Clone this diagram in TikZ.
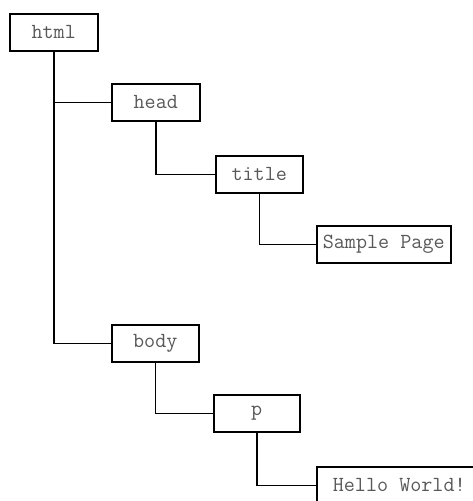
\documentclass[tikz,border=0pt]{standalone}
\begin{document}
\begin{tikzpicture}[x=1pt,y=-1pt,
  tag/.style={draw=black,line width=1.5pt,fill=white,anchor=north west,
    inner sep=0pt,minimum height=37pt,text=black!65,
    font=\ttfamily\fontsize{21.5}{24}\selectfont},
  link/.style={draw=black,line width=1.5pt}]
\useasboundingbox (0,0) rectangle (473,501);
\clip (0,0) rectangle (473,501);
\node[tag,minimum width=88pt] (html) at (9,13) {html};
\node[tag,minimum width=88pt] (head) at (111,83) {head};
\node[tag,minimum width=87pt] (title) at (215,155) {title};
\node[tag,minimum width=134pt] (sample) at (316,225) {Sample Page};
\node[tag,minimum width=87pt] (body) at (111,324) {body};
\node[tag,minimum width=86pt] (p) at (213,394) {p};
\node[tag,minimum width=165pt] (hello) at (316,466) {Hello World!};
\draw[link] (html.south) |- (head.west);
\draw[link] (html.south) |- (body.west);
\draw[link] (head.south) |- (title.west);
\draw[link] (title.south) |- (sample.west);
\draw[link] (body.south) |- (p.west);
\draw[link] (p.south) |- (hello.west);
\end{tikzpicture}
\end{document}
